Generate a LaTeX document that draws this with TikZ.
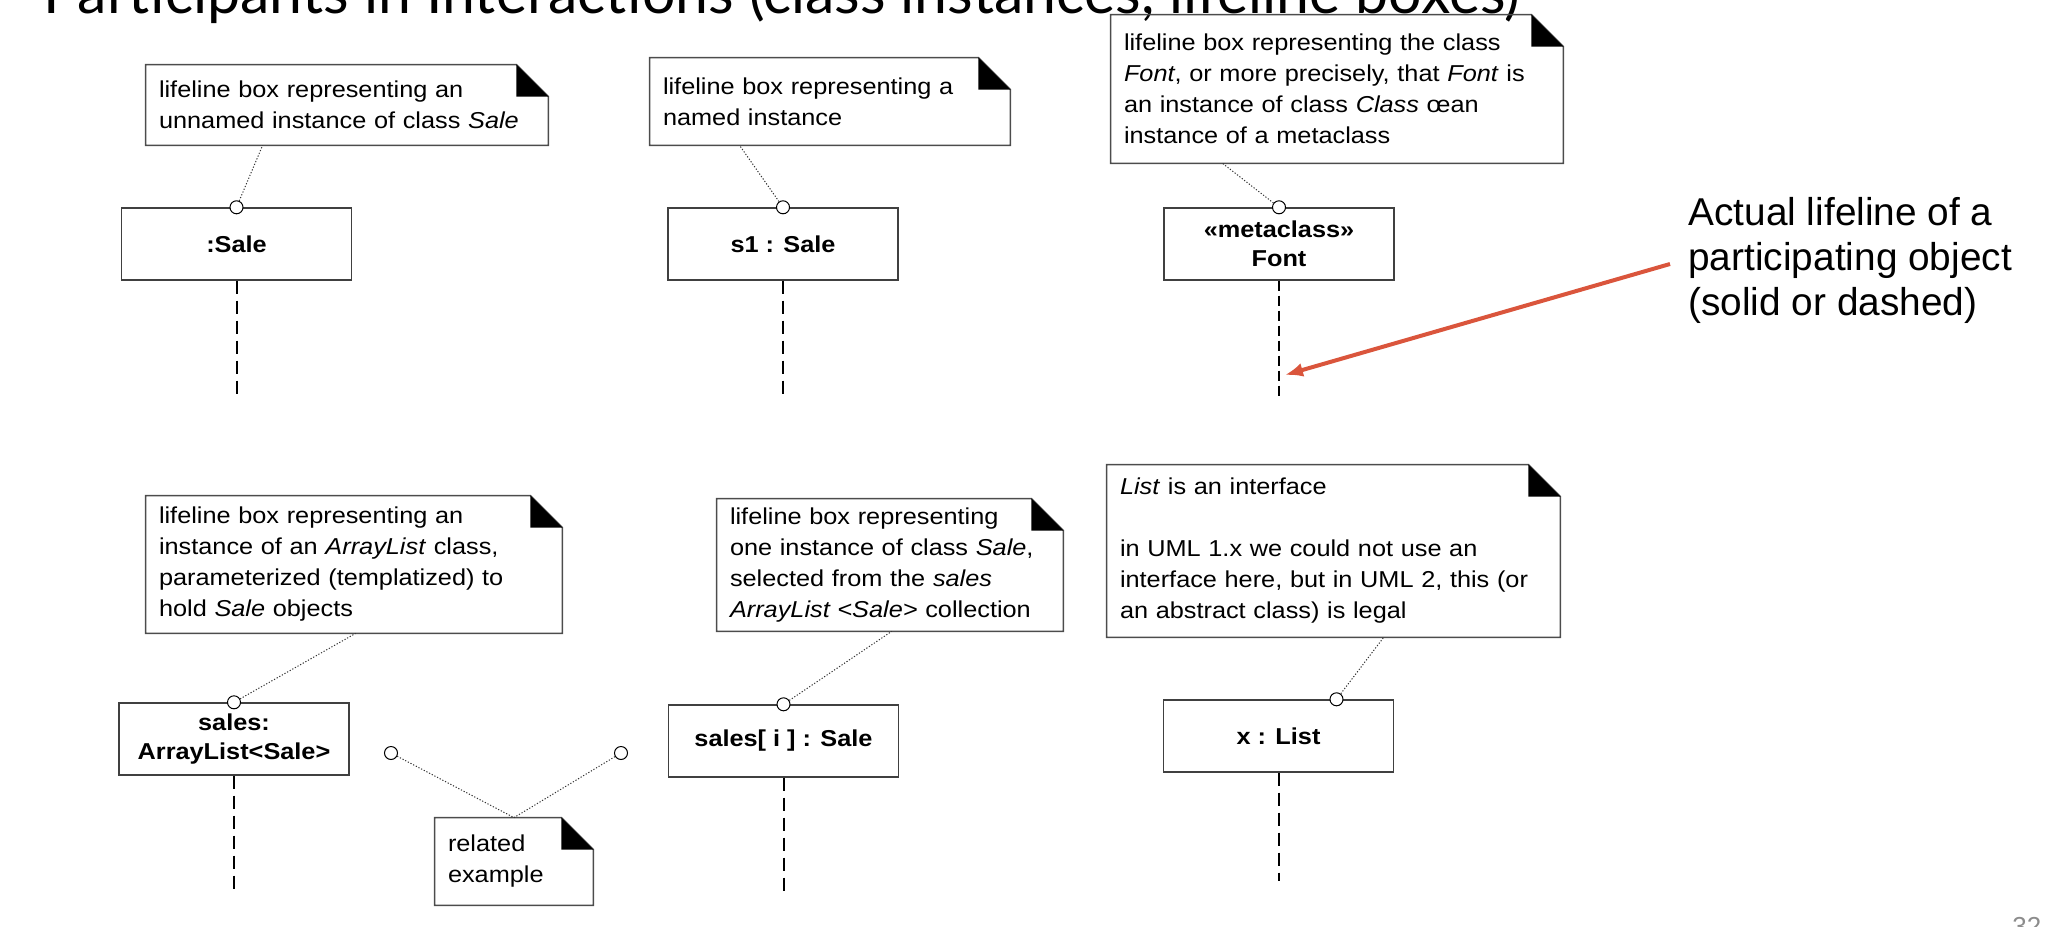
\documentclass[tikz,border=0pt]{standalone}
\usepackage{fontspec}
\setmainfont{Liberation Sans}
\newfontfamily\umlfont[FakeStretch=1.1]{Liberation Sans}
\newfontfamily\titlefont{Lato}
\usepackage{tikz}
\usetikzlibrary{arrows.meta}
\definecolor{arrowred}{RGB}{218,85,60}
\definecolor{pagegray}{RGB}{140,140,140}
\newcommand{\foldnote}[1]{%
  \draw[notedge] (#1.south west) -- (#1.north west) -- ([xshift=-16pt]#1.north east) -- ([yshift=-16pt]#1.north east) -- (#1.south east) -- cycle;
  \fill ([xshift=-16pt]#1.north east) -- ([xshift=-16pt,yshift=-16pt]#1.north east) -- ([yshift=-16pt]#1.north east) -- cycle;}

\begin{document}
\begin{tikzpicture}[x=0.5pt,y=-0.5pt,>={Latex[length=9pt,width=7pt]},
  note/.style={inner xsep=6.5pt,inner ysep=0pt,align=left,font=\umlfont\fontsize{11.5}{15.5}\selectfont},
  notedge/.style={draw=black!70,line width=0.7pt},
  lifebox/.style={draw=black!75,line width=0.7pt,minimum width=115pt,minimum height=36pt,align=center,inner sep=0pt,font=\umlfont\bfseries\fontsize{11.5}{14.5}\selectfont},
  lifeline/.style={line width=1pt,dash pattern=on 6.5pt off 3.5pt},
  anchorpin/.style={circle,draw,fill=white,line width=0.5pt,inner sep=0pt,minimum size=6.5pt},
  notelink/.style={line width=0.5pt,dash pattern=on 0.6pt off 0.9pt,black!80}]
\useasboundingbox (0,0) rectangle (2066,926);
\node[anchor=base west,inner sep=0pt,font=\titlefont\fontsize{29.5}{34}\selectfont](title) at (43,13){Participants in Interactions (class instances, lifeline boxes)};
\node[anchor=north west,inner sep=0pt,text=pagegray,font=\fontsize{13}{15}\selectfont](pagenum) at (2012,917){32};

\node[lifebox](sale) at (236.5,244){:Sale};
\node[lifebox](s1) at (783,244){s1 : Sale};
\node[lifebox](font) at (1279,244){«metaclass»\\Font};
\node[lifebox](sales) at (234,739){sales:\\ArrayList<Sale>};
\node[lifebox](salesi) at (783.5,741){sales[ i ] : Sale};
\node[lifebox](xlist) at (1278.5,736){x : List};

\node[note,text width=188pt,minimum height=40pt](n1) at (347,105){lifeline box representing an\\unnamed instance of class \textit{Sale}};
\node[note,text width=167pt,minimum height=43.5pt](n2) at (830,101.5){lifeline box representing a\\named instance};
\node[note,text width=213pt,minimum height=74pt](n3) at (1337,89){lifeline box representing the class\\\textit{Font}, or more precisely, that \textit{Font} is\\an instance of class \textit{Class} œan\\instance of a metaclass};
\node[note,text width=195pt,minimum height=68.5pt](n4) at (354,564.5){lifeline box representing an\\instance of an \textit{ArrayList} class,\\parameterized (templatized) to\\hold \textit{Sale} objects};
\node[note,text width=66pt,minimum height=43.5pt](n5) at (514,861.5){related\\example};
\node[note,text width=160pt,minimum height=66pt](n6) at (890,565){lifeline box representing\\one instance of class \textit{Sale},\\selected from the \textit{sales}\\\textit{ArrayList <Sale>} collection};
\node[note,text width=213.5pt,minimum height=86pt](n7) at (1333.5,551){\textit{List} is an interface\\[15.5pt]in UML 1.x we could not use an\\interface here, but in UML 2, this (or\\an abstract class) is legal};
\foldnote{n1} \foldnote{n2} \foldnote{n3} \foldnote{n4} \foldnote{n5} \foldnote{n6} \foldnote{n7}

\foreach \b/\l in {sale/120,s1/120,sales/120,salesi/118,xlist/108} \draw[lifeline](\b.south)--++(0,\l);
\draw[line width=0.6pt,dash pattern=on 5pt off 2.5pt](font.south)--++(0,118);

\node[anchorpin](c1) at (sale.north){}; \node[anchorpin](c2) at (s1.north){}; \node[anchorpin](c3) at (font.north){};
\node[anchorpin](c4) at (sales.north){}; \node[anchorpin](c6) at (salesi.north){}; \node[anchorpin](c7) at ([xshift=29pt]xlist.north){};
\node[anchorpin](c5a) at (391,753){}; \node[anchorpin](c5b) at (621,753){};
\draw[notelink](c1)--([xshift=58.5pt]n1.south west); \draw[notelink](c2)--([xshift=45pt]n2.south west);
\draw[notelink](c3)--([xshift=56pt]n3.south west); \draw[notelink](c4)--([xshift=105pt]n4.south west);
\draw[notelink](c6)--([xshift=87.5pt]n6.south west); \draw[notelink](c7)--([xshift=138.5pt]n7.south west);
\draw[notelink](c5a)--(n5.north); \draw[notelink](c5b)--(n5.north);

\node[anchor=west,inner xsep=9pt,inner ysep=0pt,align=left,font=\fontsize{19.4}{22.5}\selectfont](actual) at (1670,260){Actual lifeline of a\\participating object\\(solid or dashed)};
\coordinate (fonttip) at (1285,375);
\draw[->,arrowred,line width=2pt]([yshift=-2pt]actual.west)--(fonttip);
\end{tikzpicture}
\end{document}
